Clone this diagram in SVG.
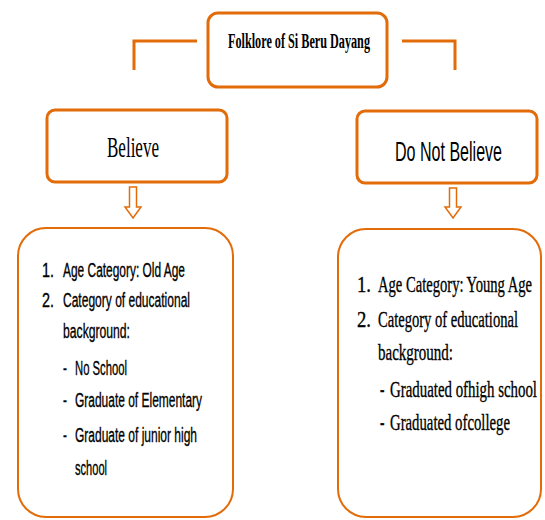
<svg xmlns="http://www.w3.org/2000/svg" width="545" height="520" viewBox="0 0 545 520">
<style>
.box{fill:#fff;stroke:#E36C0A;stroke-width:3}
.big{fill:#fff;stroke:#E36C0A;stroke-width:2}
.ln{fill:none;stroke:#E36C0A;stroke-width:3}
.arr{fill:#fff;stroke:#E36C0A;stroke-width:1.5}
.serif{font-family:"Liberation Serif","DejaVu Serif",serif;fill:#000}
.sans{font-family:"Liberation Sans","DejaVu Sans",sans-serif;fill:#000}
.tx{stroke:#000;stroke-width:0.2}
</style>
<rect width="545" height="520" fill="#fff"/>
<g id="connectors">
<path class="ln" d="M197,41 H134 V70"/>
<path class="ln" d="M402,41 H455 V70"/>
<path class="arr" d="M129.5,187 V207 H125 L133,218 L141,207 H136.5 V187 Z"/>
<path class="arr" d="M449.5,188 V207 H445 L453,218 L461,207 H456.5 V188 Z"/>
</g>
<g id="root">
<rect class="box" x="208" y="13" width="179" height="74" rx="10"/>
<text class="serif" transform="translate(228,48) scale(1,1.75)" font-size="12.2" font-weight="bold" textLength="142" lengthAdjust="spacingAndGlyphs">Folklore of Si Beru Dayang</text>
</g>
<g id="believe">
<rect class="box" x="47" y="110" width="180" height="72" rx="8"/>
<text class="serif" transform="translate(107,157) scale(1,1.78)" font-size="17" textLength="52" lengthAdjust="spacingAndGlyphs">Believe</text>
</g>
<g id="not-believe">
<rect class="box" x="357" y="111" width="180" height="72" rx="8"/>
<text class="sans" transform="translate(395,161) scale(1,1.78)" font-size="15.6" textLength="107" lengthAdjust="spacingAndGlyphs">Do Not Believe</text>
</g>
<g id="believe-details">
<rect class="big" x="18" y="228" width="215" height="289" rx="28"/>
<g class="sans tx" font-size="11.7">
<text transform="translate(42,277) scale(1,1.8)" textLength="12" lengthAdjust="spacingAndGlyphs">1.</text>
<text transform="translate(63,277) scale(1,1.8)" textLength="122" lengthAdjust="spacingAndGlyphs">Age Category:  Old Age</text>
<text transform="translate(42,307) scale(1,1.8)" textLength="12" lengthAdjust="spacingAndGlyphs">2.</text>
<text transform="translate(63,307) scale(1,1.8)" textLength="127" lengthAdjust="spacingAndGlyphs">Category of educational</text>
<text transform="translate(63,338) scale(1,1.8)" textLength="67" lengthAdjust="spacingAndGlyphs">background:</text>
<text transform="translate(63,375) scale(1,1.8)">-</text>
<text transform="translate(75,375) scale(1,1.8)" textLength="52" lengthAdjust="spacingAndGlyphs">No School</text>
<text transform="translate(63,407) scale(1,1.8)">-</text>
<text transform="translate(75,407) scale(1,1.8)" textLength="127" lengthAdjust="spacingAndGlyphs">Graduate of Elementary</text>
<text transform="translate(63,442) scale(1,1.8)">-</text>
<text transform="translate(75,442) scale(1,1.8)" textLength="122" lengthAdjust="spacingAndGlyphs">Graduate of junior high</text>
<text transform="translate(75,475) scale(1,1.8)" textLength="32" lengthAdjust="spacingAndGlyphs">school</text>
</g>
</g>
<g id="not-believe-details">
<rect class="big" x="338" y="229" width="203" height="288" rx="28"/>
<g class="serif tx" font-size="13.4">
<text transform="translate(357,292) scale(1,1.8)" textLength="14" lengthAdjust="spacingAndGlyphs">1.</text>
<text transform="translate(378,292) scale(1,1.8)" textLength="154" lengthAdjust="spacingAndGlyphs">Age Category: Young Age</text>
<text transform="translate(357,327) scale(1,1.8)" textLength="14" lengthAdjust="spacingAndGlyphs">2.</text>
<text transform="translate(378,327) scale(1,1.8)" textLength="140" lengthAdjust="spacingAndGlyphs">Category of educational</text>
<text transform="translate(378,360) scale(1,1.8)" textLength="75" lengthAdjust="spacingAndGlyphs">background:</text>
<text transform="translate(380,397) scale(1,1.8)">-</text>
<text transform="translate(390,397) scale(1,1.8)" textLength="147" lengthAdjust="spacingAndGlyphs">Graduated ofhigh school</text>
<text transform="translate(380,430) scale(1,1.8)">-</text>
<text transform="translate(390,430) scale(1,1.8)" textLength="120" lengthAdjust="spacingAndGlyphs">Graduated ofcollege</text>
</g>
</g>
</svg>
